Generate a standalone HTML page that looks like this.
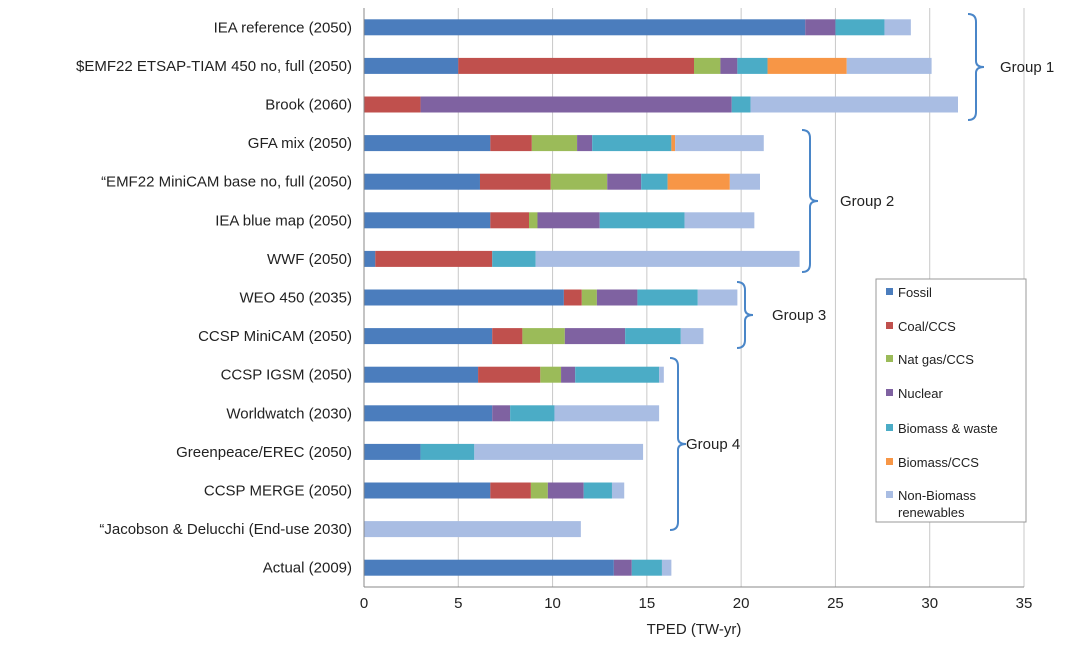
<!DOCTYPE html>
<html><head><meta charset="utf-8"><style>
body{margin:0;background:#fff;font-family:"Liberation Sans",sans-serif;}
svg text{font-family:"Liberation Sans",sans-serif;fill:#222;}
</style></head><body>
<svg id="chart" width="1074" height="643"></svg>
<script>
const categories=["IEA reference (2050)","$EMF22 ETSAP-TIAM 450 no, full (2050)","Brook (2060)","GFA mix (2050)","\u201cEMF22 MiniCAM base no, full (2050)","IEA blue map (2050)","WWF (2050)","WEO 450 (2035)","CCSP MiniCAM (2050)","CCSP IGSM (2050)","Worldwatch (2030)","Greenpeace/EREC (2050)","CCSP MERGE (2050)","\u201cJacobson & Delucchi (End-use 2030)","Actual (2009)"];
const seriesNames=["Fossil","Coal/CCS","Nat gas/CCS","Nuclear","Biomass & waste","Biomass/CCS","Non-Biomass renewables"];
const fossil=[23.4,5.0,0,6.7,6.15,6.7,0.6,10.6,6.8,6.05,6.8,3.0,6.7,0,13.25];
const coalCCS=[0,12.5,3.0,2.2,3.75,2.05,6.2,0.95,1.6,3.3,0,0,2.15,0,0];
const gasCCS=[0,1.4,0,2.4,3.0,0.45,0,0.8,2.25,1.1,0,0,0.9,0,0];
const nuclear=[1.6,0.9,16.5,0.8,1.8,3.3,0,2.15,3.2,0.75,0.95,0,1.9,0,0.95];
const biomass=[2.6,1.6,1.0,4.2,1.4,4.5,2.3,3.2,2.95,4.45,2.35,2.85,1.5,0,1.6];
const biomassCCS=[0,4.2,0,0.2,3.3,0,0,0,0,0,0,0,0,0,0];
const nonBio=[1.4,4.5,11.0,4.7,1.6,3.7,14.0,2.1,1.2,0.25,5.55,8.95,0.65,11.5,0.5];
const xTicks=[0,5,10,15,20,25,30,35];
const colors=["#4b7dbd","#c0504d","#9bbb59","#7f62a1","#4bacc6","#f79646","#a9bde3"];
const series=[fossil,coalCCS,gasCCS,nuclear,biomass,biomassCCS,nonBio];
const svg=document.getElementById('chart');const NS="http://www.w3.org/2000/svg";
function mk(t,a,p){const e=document.createElementNS(NS,t);for(const k in a)e.setAttribute(k,a[k]);(p||svg).appendChild(e);return e;}
const x0=364,x1=1024,xMax=35;const xs=v=>x0+v/xMax*(x1-x0);
const yTop=8,rowH=38.6;const yc=i=>yTop+rowH*(i+0.5);const plotBottom=yTop+rowH*categories.length;
xTicks.forEach(t=>{
 if(t>0){const g=mk('line',{x1:xs(t),x2:xs(t),y1:yTop,y2:plotBottom,stroke:'#c8c8c8','stroke-width':1});
 }
 const tx=mk('text',{x:xs(t),y:plotBottom+21,'text-anchor':'middle','font-size':15});tx.textContent=t;
 
});
categories.forEach((c,i)=>{
 const tx=mk('text',{x:352,y:yc(i)+5,'text-anchor':'end','font-size':15});tx.textContent=c;
 
 let acc=0;
 series.forEach((s,k)=>{const v=s[i];if(v>0){const r=mk('rect',{x:xs(acc),y:yc(i)-8,width:xs(acc+v)-xs(acc),height:16,fill:colors[k]});
 }acc+=v;});
});
const ax=mk('line',{x1:x0,x2:x0,y1:yTop,y2:plotBottom,stroke:'#888'});
const ax2=mk('line',{x1:x0,x2:x1,y1:plotBottom,y2:plotBottom,stroke:'#888'});
const xt=mk('text',{x:694,y:634,'text-anchor':'middle','font-size':15});xt.textContent="TPED (TW-yr)";
[[976,14,120,"Group 1",1000],[810,130,272,"Group 2",840],[745,282,348,"Group 3",772],[678,358,530,"Group 4",686]].forEach(b=>{
 const [x,y1,y2,lab,lx]=b;const m=(y1+y2)/2;
 const p=mk('path',{d:`M${x-8},${y1} Q${x},${y1} ${x},${y1+8} L${x},${m-6} Q${x},${m} ${x+8},${m} Q${x},${m} ${x},${m+6} L${x},${y2-8} Q${x},${y2} ${x-8},${y2}`,fill:'none',stroke:'#4a86c8','stroke-width':2});
 
 const t=mk('text',{x:lx,y:m+5,'font-size':15});t.textContent=lab;
});
const lg=mk('rect',{x:876,y:279,width:150,height:243,fill:'#fff',stroke:'#999'});
const ly=[292,326,359,393,428,462,495];
seriesNames.forEach((n,k)=>{
 const r=mk('rect',{x:886,y:ly[k]-4,width:7,height:7,fill:colors[k]});
 const t=mk('text',{x:898,y:ly[k]+5,'font-size':13});
 if(k===6){t.textContent="Non-Biomass";const t2=mk('text',{x:898,y:ly[k]+22,'font-size':13});t2.textContent="renewables";}
 else t.textContent=n;
});
</script>
</body></html>
